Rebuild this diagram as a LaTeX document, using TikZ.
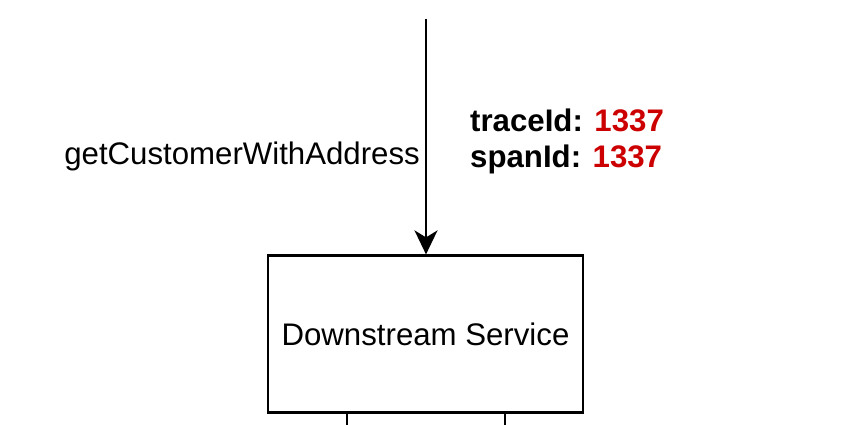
\documentclass[tikz,border=0pt]{standalone}
\usepackage{fontspec}
\setmainfont{Liberation Sans}
\usetikzlibrary{arrows.meta}
\definecolor{idred}{HTML}{CC0000}
\begin{document}
\begin{tikzpicture}[x=1pt,y=-1pt,
  line/.style={line width=2.2pt,draw=black},
  service/.style={line,rectangle,minimum width=315pt,minimum height=157pt,inner sep=0pt,
    font=\fontsize{31.2}{36}\selectfont},
  lbl/.style={inner sep=0pt,font=\fontsize{31.2}{36}\selectfont},
  tip/.style={-{Stealth[length=24pt,width=23pt,inset=7pt]}}]
  \useasboundingbox (0,0) rectangle (850,425);
  % downstream service box
  \node[service] (box) at (425.5,334) {Downstream Service};
  % incoming call
  \coordinate (src) at (426,19);
  \draw[line,tip] (src) -- (box.north -| src);
  \node[lbl,anchor=base east] (call) at (420,164) {getCustomerWithAddress};
  \node[lbl,anchor=base west] (trace) at (470,131) {\bfseries traceId: \textcolor{idred}{1337}};
  \node[lbl,anchor=base west] (span) at (470,167) {\bfseries spanId: \textcolor{idred}{1337}};
  % outgoing connections below the box
  \coordinate (out1) at (347,425);
  \coordinate (out2) at (505,425);
  \draw[line] (out1 |- box.south) -- (out1);
  \draw[line] (out2 |- box.south) -- (out2);
\end{tikzpicture}
\end{document}
